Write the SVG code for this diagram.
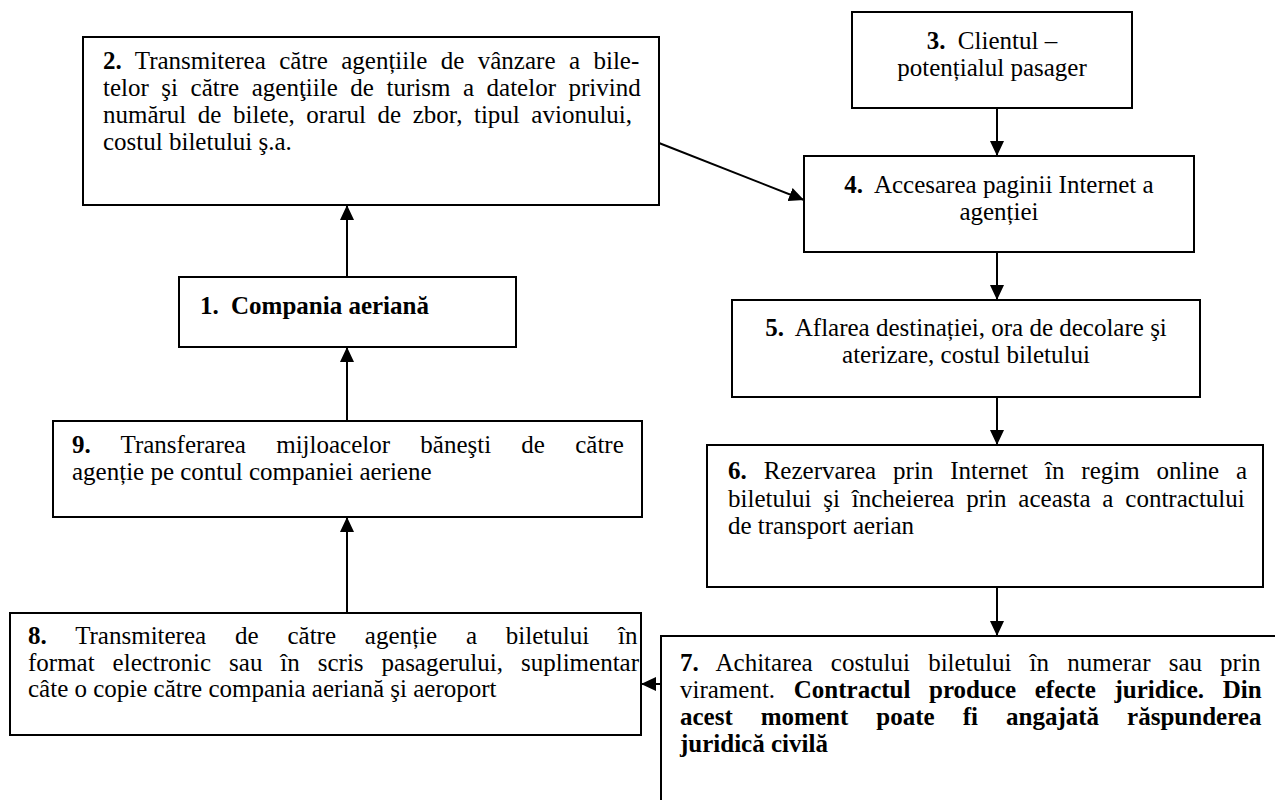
<svg xmlns="http://www.w3.org/2000/svg" width="1275" height="800" viewBox="0 0 1275 800">
<style>
.box{fill:#fff;stroke:#000;stroke-width:2}
.edge{fill:none;stroke:#000;stroke-width:2}
text{font-family:"Liberation Serif","Times New Roman",serif;font-size:25px;fill:#000}
.b{font-weight:bold}
.c{text-anchor:middle}
</style>
<defs>
<marker id="ah" markerUnits="userSpaceOnUse" markerWidth="16" markerHeight="14" refX="15" refY="7" orient="auto">
<path d="M0,0 L15,7 L0,14 z" fill="#000"/>
</marker>
</defs>
<rect width="1275" height="800" fill="#fff"/>

<g id="connectors">
<line class="edge" x1="997" y1="108" x2="997" y2="156" marker-end="url(#ah)"/>
<line class="edge" x1="997" y1="252" x2="997" y2="300" marker-end="url(#ah)"/>
<line class="edge" x1="997" y1="397" x2="997" y2="445" marker-end="url(#ah)"/>
<line class="edge" x1="997" y1="587" x2="997" y2="636" marker-end="url(#ah)"/>
<line class="edge" x1="661" y1="684" x2="641" y2="684" marker-end="url(#ah)"/>
<line class="edge" x1="347" y1="613" x2="347" y2="517" marker-end="url(#ah)"/>
<line class="edge" x1="347" y1="421" x2="347" y2="347" marker-end="url(#ah)"/>
<line class="edge" x1="347" y1="277" x2="347" y2="205" marker-end="url(#ah)"/>
<line class="edge" x1="659" y1="143" x2="804" y2="200" marker-end="url(#ah)"/>
</g>

<g id="node2">
<rect class="box" x="83" y="37" width="576" height="168"/>
<text x="103" y="69" word-spacing="7.2"><tspan class="b">2.</tspan> Transmiterea către agențiile de vânzare a bile-</text>
<text x="103" y="96" word-spacing="6.3">telor şi către agenţiile de turism a datelor privind</text>
<text x="103" y="123" word-spacing="5.3">numărul de bilete, orarul de zbor, tipul avionului,</text>
<text x="103" y="150">costul biletului ş.a.</text>
</g>

<g id="node3">
<rect class="box" x="852" y="12" width="280" height="96"/>
<text class="c" x="992" y="49"><tspan class="b">3.</tspan> <tspan dx="6">Clientul –</tspan></text>
<text class="c" x="992" y="76">potențialul pasager</text>
</g>

<g id="node4">
<rect class="box" x="804" y="156" width="390" height="96"/>
<text class="c" x="999" y="193"><tspan class="b">4.</tspan> <tspan dx="6">Accesarea paginii Internet a</tspan></text>
<text class="c" x="999" y="220">agenției</text>
</g>

<g id="node1">
<rect class="box" x="179" y="277" width="337" height="70"/>
<text class="b" x="200" y="314">1. <tspan dx="6">Compania aeriană</tspan></text>
</g>

<g id="node5">
<rect class="box" x="732" y="300" width="468" height="97"/>
<text class="c" x="966" y="336"><tspan class="b">5.</tspan> <tspan dx="6">Aflarea destinației, ora de decolare şi</tspan></text>
<text class="c" x="966" y="363">aterizare, costul biletului</text>
</g>

<g id="node6">
<rect class="box" x="707" y="445" width="556" height="142"/>
<text x="728" y="479" word-spacing="10.7"><tspan class="b">6.</tspan> Rezervarea prin Internet în regim online a</text>
<text x="728" y="507" word-spacing="5.6">biletului şi încheierea prin aceasta a contractului</text>
<text x="728" y="534">de transport aerian</text>
</g>

<g id="node7">
<path class="edge" d="M1276,636 H661 V801"/>
<text x="680" y="671" word-spacing="11.9"><tspan class="b">7.</tspan> Achitarea costului biletului în numerar sau prin</text>
<text x="680" y="698" word-spacing="12.4">virament. <tspan class="b">Contractul produce efecte juridice. Din</tspan></text>
<text class="b" x="680" y="725" word-spacing="21.8">acest moment poate fi angajată răspunderea</text>
<text class="b" x="680" y="752">juridică civilă</text>
</g>

<g id="node8">
<rect class="box" x="10" y="613" width="631" height="122"/>
<text x="28" y="644" word-spacing="22.6"><tspan class="b">8.</tspan> Transmiterea de către agenție a biletului în</text>
<text x="28" y="671" word-spacing="11.7">format electronic sau în scris pasagerului, suplimentar</text>
<text x="28" y="697">câte o copie către compania aeriană şi aeroport</text>
</g>

<g id="node9">
<rect class="box" x="53" y="421" width="589" height="96"/>
<text x="72" y="453" word-spacing="24"><tspan class="b">9.</tspan> Transferarea mijloacelor băneşti de către</text>
<text x="72" y="480">agenție pe contul companiei aeriene</text>
</g>
</svg>
